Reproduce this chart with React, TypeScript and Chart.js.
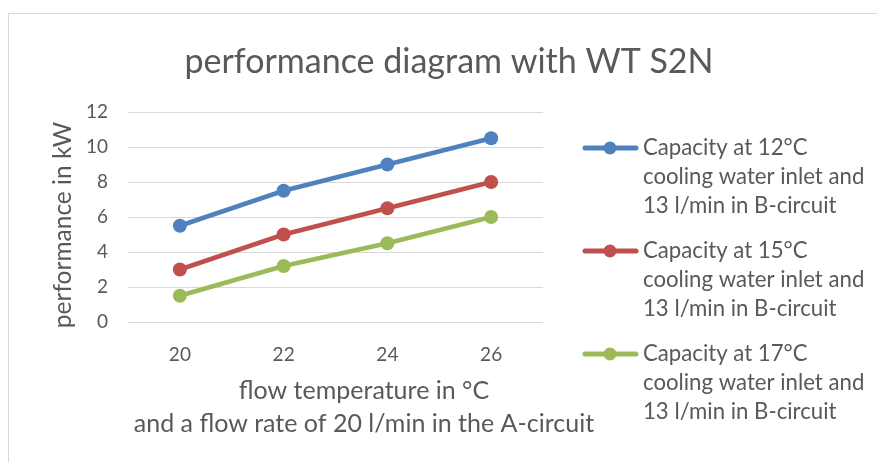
import React, { useEffect, useRef } from 'react';
import { Chart, registerables } from 'chart.js';

Chart.register(...registerables);

const categories = ['20', '22', '24', '26'];
const cap12 = [5.5, 7.5, 9, 10.5];
const cap15 = [3, 5, 6.5, 8];
const cap17 = [1.5, 3.2, 4.5, 6];
const seriesLabels = [
  ['Capacity at 12°C', 'cooling water inlet and', '13 l/min in B-circuit'],
  ['Capacity at 15°C', 'cooling water inlet and', '13 l/min in B-circuit'],
  ['Capacity at 17°C', 'cooling water inlet and', '13 l/min in B-circuit'],
];
const seriesColors = ['#4F81BD', '#C0504D', '#9BBB59'];
const titleText = 'performance diagram with WT S2N';
const xTitle = ['flow temperature in °C', 'and a flow rate of 20 l/min in the A-circuit'];
const yTitle = 'performance in kW';
const yMin = 0;
const yMax = 12;
const yStep = 2;

const FONT = 'Lato, "Open Sans", sans-serif';
const TEXT = '#595959';

const decorPlugin = {
  id: 'decor',
  beforeDraw(chart: any) {
    const ctx = chart.ctx;
    ctx.save();
    ctx.fillStyle = '#ffffff';
    ctx.fillRect(0, 0, chart.width, chart.height);
    ctx.strokeStyle = '#d9d9d9';
    ctx.lineWidth = 1;
    ctx.strokeRect(8.5, 13.5, chart.width + 20, chart.height + 20);
    ctx.restore();
  },
  afterDraw(chart: any) {
    const ctx = chart.ctx;
    ctx.save();
    ctx.fillStyle = TEXT;
    ctx.textAlign = 'center';
    ctx.textBaseline = 'middle';

    // chart title
    ctx.font = `34px ${FONT}`;
    ctx.fillText(titleText, 449, 62);

    // x axis title
    ctx.font = `25px ${FONT}`;
    xTitle.forEach((line, k) => ctx.fillText(line, 364, 391 + k * 33));

    // y axis title
    ctx.save();
    ctx.translate(63, 225);
    ctx.rotate(-Math.PI / 2);
    ctx.font = `24.5px ${FONT}`;
    ctx.fillText(yTitle, 0, 0);
    ctx.restore();

    // legend
    chart.data.datasets.forEach((ds: any, i: number) => {
      const y0 = 148 + i * 103;
      ctx.strokeStyle = ds.borderColor;
      ctx.lineWidth = 5;
      ctx.lineCap = 'round';
      ctx.beginPath();
      ctx.moveTo(585, y0);
      ctx.lineTo(636, y0);
      ctx.stroke();
      ctx.fillStyle = ds.borderColor;
      ctx.beginPath();
      ctx.arc(610, y0, 6.5, 0, Math.PI * 2);
      ctx.fill();
      ctx.fillStyle = TEXT;
      ctx.font = `22.2px ${FONT}`;
      ctx.textAlign = 'left';
      ctx.textBaseline = 'middle';
      seriesLabels[i].forEach((line, k) => {
        ctx.fillText(line, 643, y0 + k * 28.8);
      });
    });
    ctx.restore();
  },
};

export default function App() {
  const ref = useRef<HTMLCanvasElement>(null);
  useEffect(() => {
    const chart = new Chart(ref.current!, {
      type: 'line',
      data: {
        labels: categories,
        datasets: [cap12, cap15, cap17].map((d, i) => ({
          label: seriesLabels[i].join(' '),
          data: d,
          borderColor: seriesColors[i],
          backgroundColor: seriesColors[i],
          borderWidth: 4.5,
          pointRadius: 7,
          pointHoverRadius: 7,
          pointBorderWidth: 0,
          tension: 0,
        })),
      },
      options: {
        animation: false,
        responsive: false,
        events: [],
        layout: { padding: { top: 112, right: 334, left: 0, bottom: 0 } },
        plugins: {
          legend: { display: false },
          title: { display: false },
          tooltip: { enabled: false },
        },
        scales: {
          x: {
            offset: true,
            grid: { display: false, drawTicks: false },
            border: { display: false },
            ticks: { color: TEXT, font: { family: FONT, size: 19 }, padding: 21 },
            title: { display: false },
            afterFit(scale: any) {
              scale.height = 140;
            },
          },
          y: {
            min: yMin,
            max: yMax,
            ticks: { stepSize: yStep, color: TEXT, font: { family: FONT, size: 19 }, padding: 20 },
            grid: { color: '#d9d9d9', lineWidth: 1, drawTicks: false },
            border: { display: false },
            title: { display: false },
            afterFit(scale: any) {
              scale.width = 128;
            },
          },
        },
      },
      plugins: [decorPlugin],
    });
    return () => chart.destroy();
  }, []);
  return (
    <div style={{ position: 'fixed', left: 0, top: 0, width: 877, height: 462, background: '#fff' }}>
      <canvas ref={ref} width={877} height={462} style={{ width: 877, height: 462, display: 'block' }} />
    </div>
  );
}
